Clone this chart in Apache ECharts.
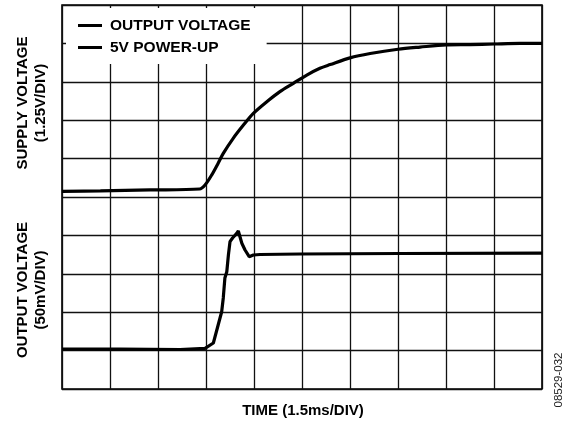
<!DOCTYPE html>
<html>
<head>
<meta charset="utf-8">
<script src="https://cdn.jsdelivr.net/npm/echarts@6/dist/echarts.min.js"></script>
<style>
html,body{margin:0;padding:0;background:#fff;}
#chart{width:563px;height:423px;}
</style>
</head>
<body>
<div id="chart"></div>
<script>
// Time in ms (1.5 ms/div, 10 divisions)
var supplyTime = [0, 1.2, 2.75, 4.3, 4.47, 4.68, 4.88, 5.04, 5.35, 5.67, 5.98, 6.4, 6.81, 7.23, 7.65, 8.06, 8.38, 9.0, 9.63, 10.5, 11.19, 12.0, 12.75, 13.5, 14.31, 15];
// Supply voltage in V (1.25 V/div)
var supplyVolts = [0.18, 0.20, 0.23, 0.26, 0.39, 0.72, 1.10, 1.42, 1.91, 2.34, 2.72, 3.10, 3.43, 3.70, 3.97, 4.19, 4.31, 4.53, 4.67, 4.81, 4.88, 4.95, 4.96, 4.98, 5.00, 5.00];
// Output trace time in ms
var outputTime = [0, 1.81, 3.69, 4.47, 4.73, 4.88, 4.99, 5.04, 5.09, 5.15, 5.2, 5.25, 5.33, 5.46, 5.51, 5.62, 5.72, 5.85, 5.98, 6.19, 7.44, 10.56, 15];
// Output voltage in mV (50 mV/div, offset scale)
var outputMilliVolts = [52.1, 52.0, 51.4, 53.0, 59.9, 83.3, 100.6, 118.5, 144.5, 152.7, 174.5, 191.8, 196.6, 202.7, 205.7, 189.7, 181.0, 172.3, 174.5, 175.1, 175.8, 176.4, 177.0];

var seriesNames = ['OUTPUT VOLTAGE', '5V POWER-UP'];
var yTitleTop = 'SUPPLY VOLTAGE\n(1.25V/DIV)';
var yTitleBottom = 'OUTPUT VOLTAGE\n(50mV/DIV)';
var xTitle = 'TIME (1.5ms/DIV)';
var figureId = '08529-032';

function zip(a, b) { return a.map(function (v, i) { return [v, b[i]]; }); }

var FONT = '"Liberation Sans", Arial, Helvetica, sans-serif';
var chart = echarts.init(document.getElementById('chart'));
chart.setOption({
  animation: false,
  backgroundColor: '#fff',
  grid: { left: 62, right: 21, top: 5, bottom: 34, show: true, borderColor: '#000', borderWidth: 1.6, backgroundColor: 'transparent' },
  xAxis: {
    type: 'value', min: 0, max: 15, interval: 1.5,
    axisLine: { show: false }, axisTick: { show: false }, axisLabel: { show: false },
    splitLine: { show: true, lineStyle: { color: '#111', width: 1.3 } }
  },
  yAxis: [{
    type: 'value', min: -6.25, max: 6.25, interval: 1.25,
    axisLine: { show: false }, axisTick: { show: false }, axisLabel: { show: false },
    splitLine: { show: true, lineStyle: { color: '#111', width: 1.3 } }
  }, {
    type: 'value', min: 0, max: 500, interval: 50, position: 'right',
    axisLine: { show: false }, axisTick: { show: false }, axisLabel: { show: false },
    splitLine: { show: false }
  }],
  legend: {
    orient: 'vertical', left: 66, top: 8,
    backgroundColor: '#fff',
    padding: [9, 16, 8, 12],
    itemGap: 5,
    icon: 'rect', itemWidth: 24, itemHeight: 3,
    textStyle: { fontFamily: FONT, fontWeight: 'bold', fontSize: 15.5, color: '#000', lineHeight: 17, padding: [0, 0, 0, 3] },
    data: seriesNames
  },
  series: [{
    name: seriesNames[0], type: 'line', yAxisIndex: 1, showSymbol: false, symbol: 'none',
    data: zip(outputTime, outputMilliVolts),
    lineStyle: { color: '#000', width: 3.2 }, itemStyle: { color: '#000' }, z: 3
  }, {
    name: seriesNames[1], type: 'line', yAxisIndex: 0, showSymbol: false, symbol: 'none', smooth: 0.3,
    data: zip(supplyTime, supplyVolts),
    lineStyle: { color: '#000', width: 3.2 }, itemStyle: { color: '#000' }, z: 3
  }],
  graphic: [{
    type: 'text', x: 32, y: 103, rotation: Math.PI / 2,
    style: { text: yTitleTop, font: 'bold 15px ' + FONT, fill: '#000', align: 'center', verticalAlign: 'middle', lineHeight: 18 }
  }, {
    type: 'text', x: 32, y: 290, rotation: Math.PI / 2,
    style: { text: yTitleBottom, font: 'bold 15px ' + FONT, fill: '#000', align: 'center', verticalAlign: 'middle', lineHeight: 18 }
  }, {
    type: 'text', x: 303, y: 411,
    style: { text: xTitle, font: 'bold 15px ' + FONT, fill: '#000', align: 'center', verticalAlign: 'middle' }
  }, {
    type: 'text', x: 559, y: 380, rotation: Math.PI / 2,
    style: { text: figureId, font: '11.5px ' + FONT, fill: '#222', align: 'center', verticalAlign: 'middle' }
  }]
});
</script>
</body>
</html>
